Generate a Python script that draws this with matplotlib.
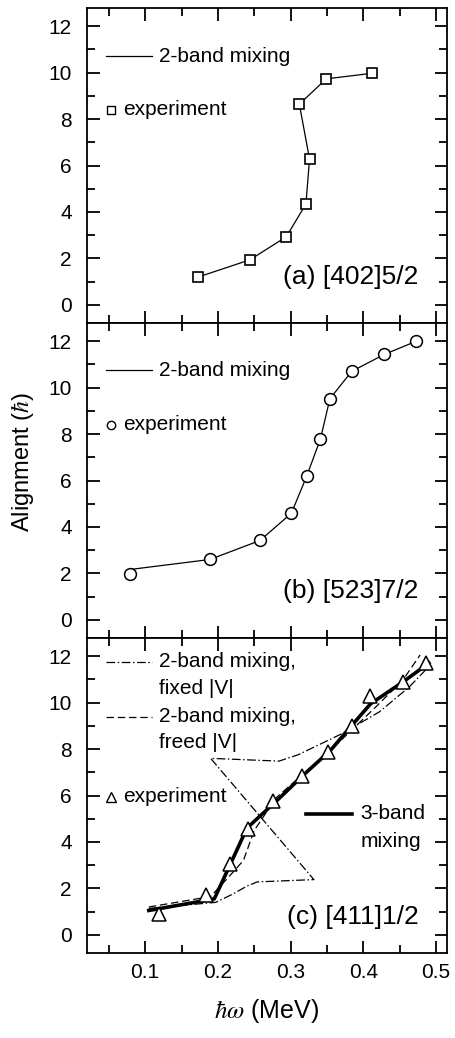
import matplotlib
matplotlib.use("Agg")
import matplotlib.pyplot as plt
from matplotlib.ticker import MultipleLocator

plt.rcParams['font.family'] = ['Liberation Sans', 'DejaVu Sans']
plt.rcParams['mathtext.fontset'] = 'stix'

# (a) [402]5/2
a_x = [0.172, 0.244, 0.294, 0.321, 0.326, 0.312, 0.349, 0.412]
a_y = [1.19, 1.94, 2.93, 4.34, 6.27, 8.64, 9.73, 9.97]

# (b) [523]7/2
b_exp_x = [0.079, 0.189, 0.258, 0.301, 0.322, 0.341, 0.354, 0.384, 0.429, 0.473]
b_exp_y = [1.98, 2.60, 3.42, 4.59, 6.18, 7.79, 9.52, 10.70, 11.43, 12.00]
b_th_x = [0.082, 0.189, 0.258, 0.301, 0.322, 0.341, 0.354, 0.384, 0.429, 0.473]
b_th_y = [2.18, 2.60, 3.42, 4.59, 6.18, 7.79, 9.52, 10.70, 11.43, 12.00]

# (c) [411]1/2
c_exp_x = [0.119, 0.183, 0.217, 0.241, 0.276, 0.315, 0.352, 0.384, 0.409, 0.454, 0.486]
c_exp_y = [0.90, 1.71, 3.04, 4.56, 5.78, 6.86, 7.87, 9.00, 10.27, 10.88, 11.70]
c_three_x = [0.105, 0.195, 0.215, 0.240, 0.280, 0.320, 0.355, 0.385, 0.410, 0.455, 0.490]
c_three_y = [1.05, 1.55, 2.90, 4.60, 5.75, 6.95, 7.95, 9.05, 9.95, 10.90, 11.70]
c_freed_x = [0.105, 0.190, 0.215, 0.235, 0.250, 0.280, 0.320, 0.360, 0.390, 0.420, 0.455, 0.478]
c_freed_y = [1.20, 1.65, 2.50, 3.20, 4.50, 5.90, 7.00, 8.10, 9.00, 9.90, 11.00, 12.05]
c_fixed_x = [0.105, 0.197, 0.220, 0.240, 0.254, 0.332, 0.190, 0.284, 0.310, 0.340, 0.371, 0.422, 0.463, 0.490]
c_fixed_y = [1.14, 1.40, 1.75, 2.10, 2.28, 2.38, 7.60, 7.48, 7.75, 8.20, 8.67, 9.60, 10.67, 11.55]

fig = plt.figure(figsize=(4.55, 10.38), dpi=100)
left, width, height = 87 / 455, 360 / 455, 315 / 1038
bottoms = [1 - 323 / 1038, 1 - 638 / 1038, 1 - 953 / 1038]
axes = [fig.add_axes([left, b, width, height]) for b in bottoms]

for i, ax in enumerate(axes):
    ax.set_xlim(0.02, 0.515)
    ax.set_ylim(-0.78, 12.78)
    ax.xaxis.set_major_locator(MultipleLocator(0.1))
    ax.xaxis.set_minor_locator(MultipleLocator(0.05))
    ax.yaxis.set_major_locator(MultipleLocator(2))
    ax.yaxis.set_minor_locator(MultipleLocator(1))
    ax.tick_params(which='both', direction='in', top=True, right=True, width=1.3,
                   labelsize=15)
    ax.tick_params(axis='y', pad=11)
    ax.tick_params(axis='x', pad=7)
    ax.tick_params(which='major', length=9)
    ax.tick_params(which='minor', length=6)
    for s in ax.spines.values():
        s.set_linewidth(1.3)
    if i < 2:
        ax.tick_params(labelbottom=False)

# panel (a)
ax = axes[0]
ax.plot(a_x, a_y, color='black', lw=0.9, marker='s', ms=7, mfc='white', mec='black', mew=1.2)
ax.plot([0.046, 0.110], [10.7, 10.7], color='black', lw=0.9)
ax.text(0.119, 10.7, '2-band mixing', fontsize=15, va='center')
ax.plot([0.053], [8.4], marker='s', ms=5.5, mfc='white', mec='black', mew=1)
ax.text(0.069, 8.4, 'experiment', fontsize=15, va='center')
ax.text(0.476, 1.2, '(a) [402]5/2', fontsize=19, ha='right', va='center')

# panel (b)
ax = axes[1]
ax.plot(b_th_x, b_th_y, color='black', lw=0.9)
ax.plot(b_exp_x, b_exp_y, ls='none', marker='o', ms=8.5, mfc='white', mec='black', mew=1.1)
ax.plot([0.046, 0.110], [10.75, 10.75], color='black', lw=0.9)
ax.text(0.119, 10.75, '2-band mixing', fontsize=15, va='center')
ax.plot([0.053], [8.4], marker='o', ms=6, mfc='white', mec='black', mew=1)
ax.text(0.069, 8.4, 'experiment', fontsize=15, va='center')
ax.text(0.476, 1.23, '(b) [523]7/2', fontsize=19, ha='right', va='center')

# panel (c)
ax = axes[2]
ax.plot(c_fixed_x, c_fixed_y, color='black', lw=0.9, ls='-.', dashes=(7, 2, 1.2, 2))
ax.plot(c_freed_x, c_freed_y, color='black', lw=0.9, ls='--', dashes=(6, 3))
ax.plot(c_three_x, c_three_y, color='black', lw=2.6)
ax.plot(c_exp_x, c_exp_y, ls='none', marker='^', ms=10, mfc='white', mec='black', mew=1.1)
ax.plot([0.046, 0.110], [11.75, 11.75], color='black', lw=0.9, ls='-.', dashes=(7, 2, 1.2, 2))
ax.text(0.119, 11.75, '2-band mixing,', fontsize=15, va='center')
ax.text(0.119, 10.6, 'fixed |V|', fontsize=15, va='center')
ax.plot([0.046, 0.110], [9.4, 9.4], color='black', lw=0.9, ls='--', dashes=(6, 3))
ax.text(0.119, 9.4, '2-band mixing,', fontsize=15, va='center')
ax.text(0.119, 8.27, 'freed |V|', fontsize=15, va='center')
ax.plot([0.053], [5.95], marker='^', ms=7, mfc='white', mec='black', mew=1)
ax.text(0.069, 5.95, 'experiment', fontsize=15, va='center')
ax.plot([0.321, 0.385], [5.22, 5.22], color='black', lw=2.6)
ax.text(0.396, 5.22, '3-band', fontsize=15, va='center')
ax.text(0.396, 4.03, 'mixing', fontsize=15, va='center')
ax.text(0.476, 0.75, '(c) [411]1/2', fontsize=19, ha='right', va='center')

fig.text(22 / 455, 1 - 462 / 1038, r'Alignment ($\hbar$)', fontsize=17,
         rotation=90, ha='center', va='center')
fig.text(267 / 455, 1 - 1011 / 1038, r'$\hbar\omega$ (MeV)', fontsize=18,
         ha='center', va='center')

fig.savefig('out.png', dpi=100)
